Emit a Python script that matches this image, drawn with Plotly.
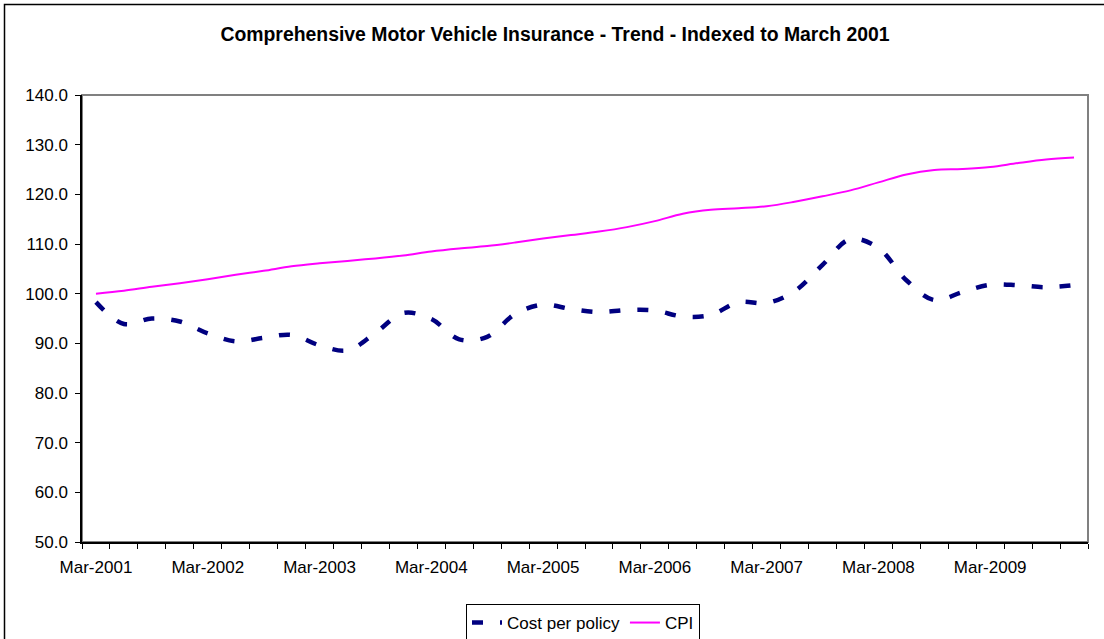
import plotly.graph_objects as go

quarters = []
for yr in range(2001, 2010):
    for m in ["Mar", "Jun", "Sep", "Dec"]:
        quarters.append(f"{m}-{yr}")

cost_per_policy = [98.3, 93.9, 95.0, 94.4, 92.0, 90.4, 91.1, 91.7, 89.6, 88.6, 92.1, 96.1,
                   94.9, 90.8, 91.3, 95.9, 97.8, 96.9, 96.3, 96.7, 96.6, 95.4, 95.7, 98.3,
                   98.1, 100.5, 105.8, 111.0, 109.2, 102.7, 98.7, 100.3, 101.8, 101.7, 101.3, 101.7]
cpi = [100.0, 100.6, 101.4, 102.1, 102.9, 103.8, 104.6, 105.5, 106.1, 106.6, 107.1, 107.7,
       108.5, 109.1, 109.6, 110.3, 111.1, 111.8, 112.5, 113.4, 114.6, 116.1, 116.9, 117.2,
       117.6, 118.5, 119.6, 120.8, 122.4, 124.0, 124.9, 125.1, 125.5, 126.3, 127.0, 127.4]

title = "Comprehensive Motor Vehicle Insurance - Trend - Indexed to March 2001"
y_ticks = [50, 60, 70, 80, 90, 100, 110, 120, 130, 140]

idx = list(range(len(quarters)))
label_idx = idx[::4]

W, H = 1104, 639
L, R, T, B = 82, 16, 95, 97
pw, ph = W - L - R, H - T - B

def px_to_paper_x(px):
    return (px - L) / pw

def px_to_paper_y(py):
    return (H - B - py) / ph

fig = go.Figure()
fig.add_trace(go.Scatter(
    x=idx, y=cost_per_policy, name="Cost per policy", mode="lines",
    line=dict(color="#000080", width=4.5, dash="11px,17px", shape="spline", smoothing=1.0),
    hovertext=quarters,
))
fig.add_trace(go.Scatter(
    x=idx, y=cpi, name="CPI", mode="lines",
    line=dict(color="#FF00FF", width=2, shape="spline", smoothing=1.0),
    hovertext=quarters,
))

font = "Liberation Sans, Arial, sans-serif"
fs = 17

fig.update_layout(
    width=W, height=H,
    margin=dict(l=L, r=R, t=T, b=B, autoexpand=False),
    paper_bgcolor="white", plot_bgcolor="white",
    font=dict(family=font, size=fs, color="black"),
    title=dict(text="<b>" + title + "</b>", x=px_to_paper_x(555), xref="paper", xanchor="center",
               y=1 - 34.5 / H, yanchor="middle", font=dict(size=19.4, family=font, color="black")),
    showlegend=True,
    legend=dict(orientation="h", x=px_to_paper_x(583), xanchor="center",
                y=px_to_paper_y(604), yanchor="top",
                bordercolor="black", borderwidth=1, bgcolor="white",
                font=dict(size=fs, family=font, color="black"),
                itemwidth=30, tracegroupgap=0),
    xaxis=dict(range=[-0.5, len(quarters) - 0.5], showgrid=False, zeroline=False,
               tickmode="array", tickvals=label_idx, ticktext=[quarters[i] for i in label_idx],
               ticks="", showline=True, linecolor="black", linewidth=1.5,
               ticklabelstandoff=9,
               tickfont=dict(size=fs, family=font, color="black"),
               minor=dict(tickmode="array", tickvals=[i - 0.5 for i in idx] + [len(idx) - 0.5],
                          ticks="outside", ticklen=5, tickcolor="black", tickwidth=1, showgrid=False),
               fixedrange=True),
    yaxis=dict(range=[50, 140], tickmode="array", tickvals=y_ticks,
               ticktext=[f"{v:.1f}" for v in y_ticks], showgrid=False, zeroline=False,
               ticks="outside", ticklen=5, tickcolor="black", showline=True,
               linecolor="black", linewidth=1.5, ticklabelstandoff=4,
               tickfont=dict(size=fs, family=font, color="black"), fixedrange=True),
    shapes=[
        dict(type="rect", xref="paper", yref="paper", x0=0, x1=1, y0=0, y1=1,
             line=dict(color="#808080", width=2), layer="below"),
        dict(type="rect", xref="paper", yref="paper",
             x0=px_to_paper_x(4.5), x1=px_to_paper_x(1200),
             y0=px_to_paper_y(700), y1=px_to_paper_y(4.5),
             line=dict(color="black", width=1.5), layer="below"),
    ],
)

fig.write_html("out.html", config={"displayModeBar": False})

with open("out.html", "r", encoding="utf-8") as f:
    html = f.read()
html = html.replace("<head>", "<head><style>html,body{margin:0;padding:0;overflow:hidden;}</style>", 1)
with open("out.html", "w", encoding="utf-8") as f:
    f.write(html)
